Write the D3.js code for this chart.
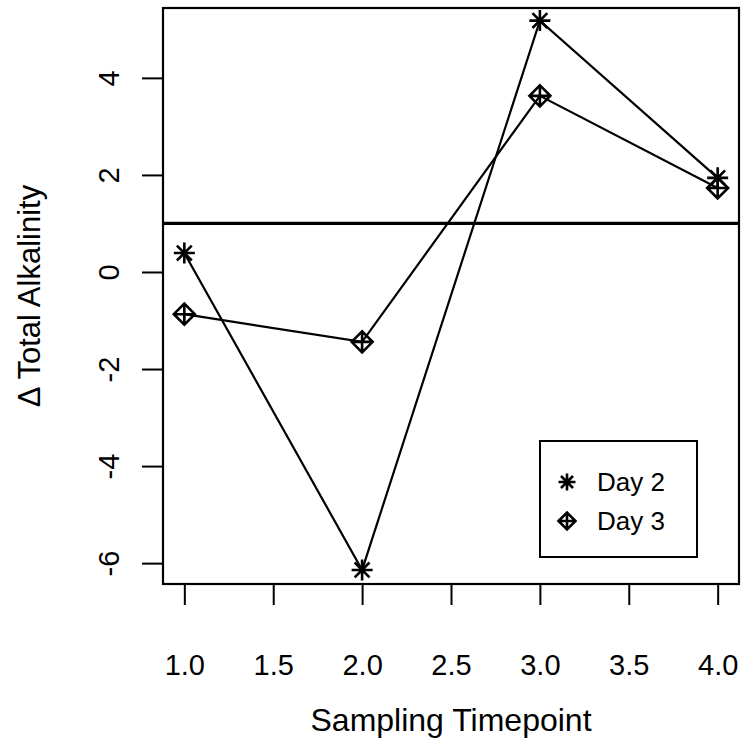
<!DOCTYPE html>
<html><head><meta charset="utf-8">
<script src="https://cdn.jsdelivr.net/npm/d3@7"></script>
<style>body{margin:0;background:#fff}svg{display:block}text{font-family:"Liberation Sans",Arial,sans-serif;fill:#000}</style>
</head><body><svg id="c" width="743" height="742"></svg>
<script>
const timepoints = [1, 2, 3, 4];
const day2 = [0.39, -6.14, 5.18, 1.94];
const day3 = [-0.87, -1.44, 3.63, 1.73];
const xTicks = [1.0, 1.5, 2.0, 2.5, 3.0, 3.5, 4.0];
const yTicks = [-6, -4, -2, 0, 2, 4];
const refLine = 1;
const seriesNames = ["Day 2", "Day 3"];

const svg = d3.select("#c");
const L = 163, R = 739, T = 8, B = 584;
const FS = 29;
const x = d3.scaleLinear().domain([0.88, 4.12]).range([L, R]);
const y = d3.scaleLinear().domain([-6.43, 5.44]).range([B, T]);

// axes
const xa = svg.append("g").attr("transform", `translate(0,${B})`)
  .call(d3.axisBottom(x).tickValues(xTicks).tickFormat(d3.format(".1f")).tickSize(21).tickSizeOuter(0));
const ya = svg.append("g").attr("transform", `translate(${L},0)`)
  .call(d3.axisLeft(y).tickValues(yTicks).tickFormat(d => d).tickSize(21).tickSizeOuter(0));
[xa, ya].forEach(a => {
  a.attr("font-size", null).attr("font-family", null);
  a.select(".domain").remove();
  a.selectAll("line").attr("stroke", "#000").attr("stroke-width", 2);
});
xa.selectAll("text").attr("font-size", FS).attr("dy", 0).attr("y", 91).attr("fill", "#000");
ya.selectAll(".tick text").attr("font-size", FS).attr("fill", "#000")
  .attr("x", 0).attr("y", 0).attr("dy", 0).attr("text-anchor", "middle")
  .attr("transform", "translate(-44,0) rotate(-90)");

// box
svg.append("rect").attr("x", L).attr("y", T).attr("width", R - L).attr("height", B - T)
  .attr("fill", "none").attr("stroke", "#000").attr("stroke-width", 2.2);

// reference line
svg.append("line").attr("x1", L).attr("x2", R).attr("y1", y(refLine)).attr("y2", y(refLine))
  .attr("stroke", "#000").attr("stroke-width", 3.2);

const line = d3.line().x((d, i) => x(timepoints[i])).y(d => y(d));
[day2, day3].forEach(s => svg.append("path").attr("d", line(s)).attr("fill", "none").attr("stroke", "#000").attr("stroke-width", 2.2));

function star(g, cx, cy, r) {
  const a = r * Math.SQRT1_2;
  const p = `M${cx - r},${cy}L${cx + r},${cy}M${cx},${cy - r}L${cx},${cy + r}M${cx - a},${cy - a}L${cx + a},${cy + a}M${cx - a},${cy + a}L${cx + a},${cy - a}`;
  g.append("path").attr("d", p).attr("stroke", "#000").attr("stroke-width", 2.6).attr("fill", "none");
}
function diamondPlus(g, cx, cy, r) {
  const p = `M${cx - r},${cy}L${cx},${cy - r}L${cx + r},${cy}L${cx},${cy + r}Z M${cx - r},${cy}L${cx + r},${cy}M${cx},${cy - r}L${cx},${cy + r}`;
  g.append("path").attr("d", p).attr("stroke", "#000").attr("stroke-width", 2.6).attr("fill", "none");
}
const gm = svg.append("g");
day2.forEach((v, i) => star(gm, x(timepoints[i]), y(v), 10.5));
day3.forEach((v, i) => diamondPlus(gm, x(timepoints[i]), y(v), 10.5));

// legend
const lg = svg.append("g");
lg.append("rect").attr("x", 540).attr("y", 441).attr("width", 157).attr("height", 116)
  .attr("fill", "#fff").attr("stroke", "#000").attr("stroke-width", 2);
star(lg, 567, 482, 8.5);
diamondPlus(lg, 567, 521, 8.5);
lg.append("text").attr("x", 597).attr("y", 482).attr("dy", "0.35em").attr("font-size", 26).text(seriesNames[0]);
lg.append("text").attr("x", 597).attr("y", 521).attr("dy", "0.35em").attr("font-size", 26).text(seriesNames[1]);

// titles
svg.append("text").attr("x", (L + R) / 2).attr("y", 731).attr("text-anchor", "middle").attr("font-size", 32).text("Sampling Timepoint");
svg.append("text").attr("transform", `translate(40,${(T + B) / 2}) rotate(-90)`).attr("text-anchor", "middle").attr("font-size", 31).text("Δ Total Alkalinity");
</script></body></html>
